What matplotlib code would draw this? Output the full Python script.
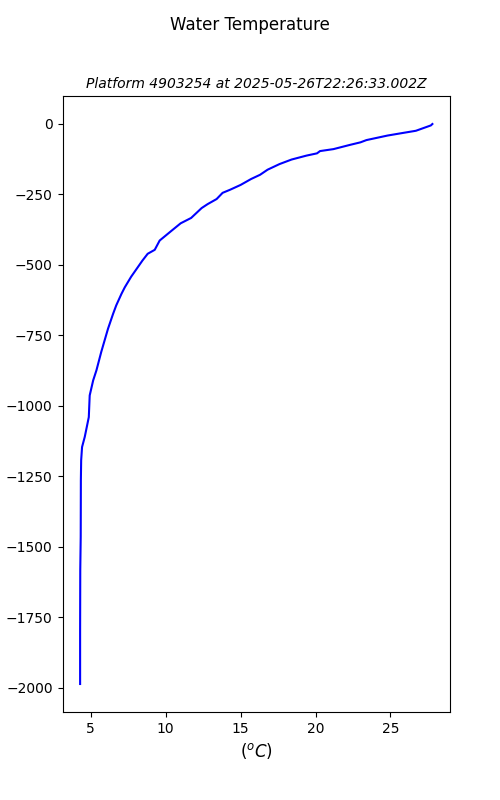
import matplotlib.pyplot as plt

platform = "4903254"
timestamp = "2025-05-26T22:26:33.002Z"

# temperature (degC) and depth (m, negative down)
temp = [27.80, 27.70, 26.70, 25.80, 24.80, 23.40, 23.00, 22.30, 21.20, 20.30,
        20.10, 19.40, 18.40, 17.60, 16.80, 16.30, 15.70, 15.00, 14.30, 13.80,
        13.40, 12.80, 12.40, 11.70, 11.00, 10.40, 9.60, 9.27, 8.80, 8.45,
        7.70, 7.27, 7.05, 6.70, 6.49, 6.15, 5.70, 5.38, 5.16, 4.93,
        4.87, 4.60, 4.42, 4.36, 4.34, 4.33, 4.30, 4.29, 4.29]
depth = [-1, -6, -25, -33, -42, -58, -66, -75, -90, -97,
         -105, -113, -127, -143, -163, -181, -196, -217, -234, -245,
         -267, -285, -299, -334, -353, -379, -414, -447, -461, -485,
         -542, -580, -603, -644, -674, -727, -809, -874, -910, -963,
         -1040, -1110, -1146, -1193, -1264, -1464, -1582, -1800, -1986]

fig = plt.figure(figsize=(5, 8), dpi=100)
ax = fig.add_subplot(111)
ax.plot(temp, depth, color="blue")
fig.suptitle("Water Temperature")
ax.set_title("Platform " + platform + " at " + timestamp, fontsize=10, style="italic")
ax.set_xlabel(r"($^oC$)", fontsize=12)
ax.set_ylabel("depth (m)")
fig.savefig("out.png")
